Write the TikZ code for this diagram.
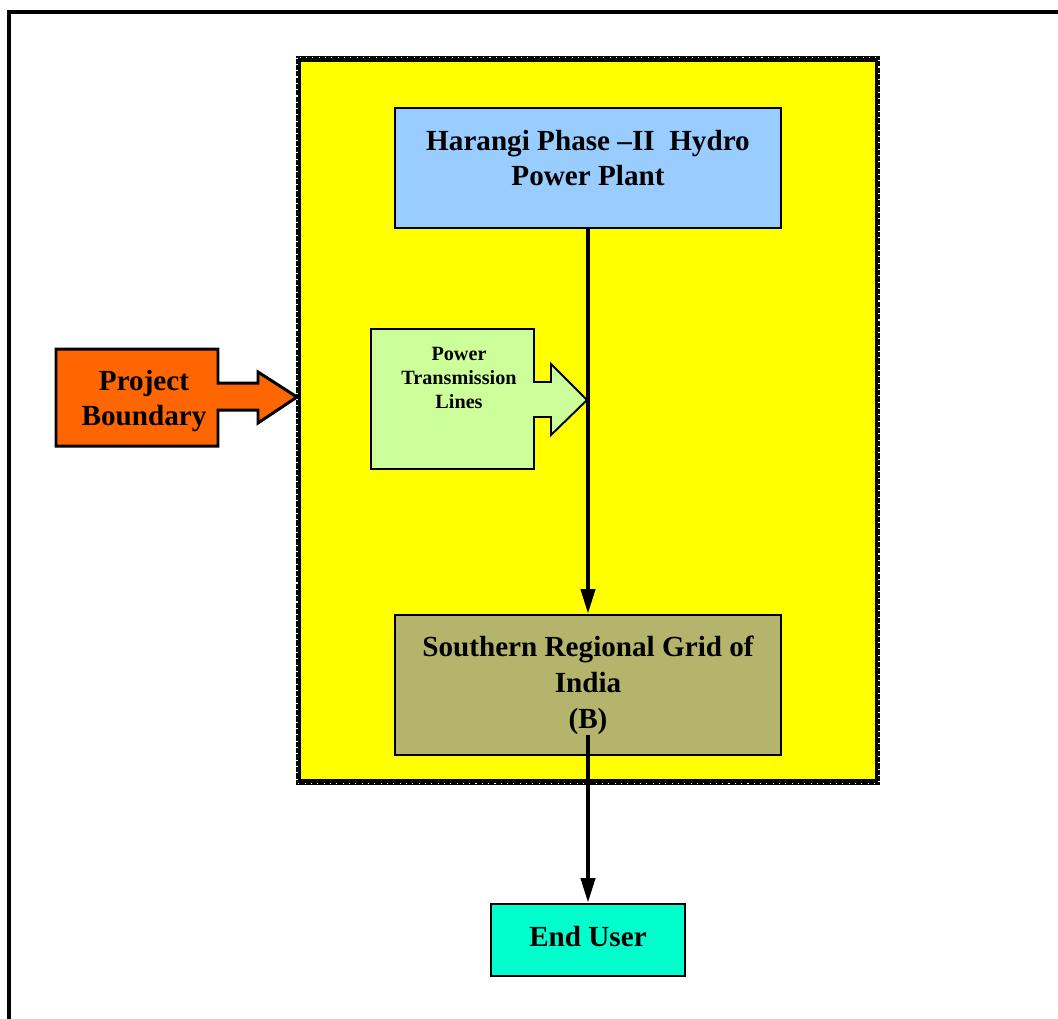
\documentclass[tikz,border=0pt]{standalone}
\usepackage{fontspec}
\setmainfont{Liberation Serif}
\usetikzlibrary{arrows.meta}
\definecolor{boundyellow}{HTML}{FFFF00}
\definecolor{plantblue}{HTML}{99CCFF}
\definecolor{linegreen}{HTML}{CCFF99}
\definecolor{projorange}{HTML}{FF6600}
\definecolor{gridolive}{HTML}{B4B46C}
\definecolor{useraqua}{HTML}{00FFCC}

\begin{document}
\begin{tikzpicture}[x=0.02cm, y=-0.02cm,
      box/.style={rectangle, draw=black, line width=1.5pt, align=center, inner sep=0pt, font=\bfseries\fontsize{16.6}{20.4}\selectfont},
      boxtext/.style={align=center, inner sep=0pt, font=\bfseries\fontsize{16.6}{20.4}\selectfont},
      callout/.style={draw=black, line join=miter},
      arrow/.style={-{Triangle[length=14pt, width=8pt]}, line width=2.2pt},
    ]
    \useasboundingbox (0,0) rectangle (1058,1018);
    \clip (0,0) rectangle (1058,1018);
    \draw[line width=2.2pt] (9,1100) -- (9,12) -- (1100,12);

    \draw[fill=boundyellow, line width=3pt] (298.5,59) rectangle (877.5,782);
    \draw[white, line width=0.6pt, dash pattern=on 0.6pt off 3pt] (297,57.5) rectangle (879,783.5);

    \node[box, fill=plantblue, minimum width=7.72cm, minimum height=2.4cm] (plant) at (588,168) {};
    \node[boxtext] (planttext) at (588,158) {Harangi Phase --II\ \ Hydro\\Power Plant};

    \node[box, fill=gridolive, minimum width=7.72cm, minimum height=2.8cm] (grid) at (588,685) {Southern Regional Grid of\\India\\(B)};
    \node[box, fill=useraqua, minimum width=3.88cm, minimum height=1.44cm, text depth=4.5pt] (user) at (588,940) {End User};

    \draw[callout, fill=linegreen, line width=1.1pt] (371,329) -- (534,329) -- (534,382) -- (551,382) -- (551,364) -- (587,400) -- (551,435) -- (551,417) -- (534,417) -- (534,469) -- (371,469) -- cycle;
    \node[boxtext, font=\bfseries\fontsize{11.5}{13.9}\selectfont] (lines) at (459,378) {Power\\Transmission\\Lines};

    \draw[callout, fill=projorange, line width=1.7pt] (56,349) -- (218,349) -- (218,383) -- (258,383) -- (258,372) -- (297,397) -- (258,423) -- (258,410) -- (218,410) -- (218,446) -- (56,446) -- cycle;
    \node[boxtext] (project) at (144,401) {Project\\Boundary};

    \coordinate (gridout) at (588,735);
    \draw[arrow] (plant) -- (grid);
    \draw[arrow] (gridout) -- (user);
  \end{tikzpicture}
\end{document}
